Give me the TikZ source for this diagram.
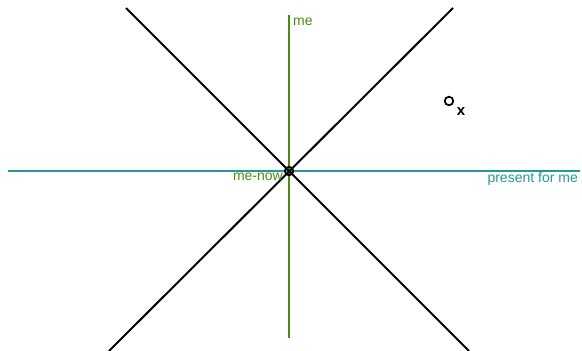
\documentclass[tikz,border=0pt]{standalone}
\usepackage{fontspec}
\setmainfont{Liberation Sans}
\usetikzlibrary{positioning}
\definecolor{megreen}{HTML}{4A8C12}
\definecolor{nowteal}{HTML}{23999A}

\begin{document}
\begin{tikzpicture}[
  x=1pt, y=-1pt,
  cone/.style={draw=black, line width=2pt},
  worldline/.style={draw=megreen, line width=2pt},
  presentline/.style={draw=nowteal, line width=2pt},
  event/.style={circle, draw=black, line width=1.8pt, inner sep=0pt, minimum size=8.5pt},
  lbl/.style={font=\fontsize{14}{16}\selectfont, inner sep=1pt}
]
\useasboundingbox (0,0) rectangle (582,351);
% end points of the lines
\coordinate (pl) at (8,171);
\coordinate (pr) at (580,171);
\coordinate (wt) at (289,15);
\coordinate (wb) at (289,338);
\coordinate (ctl) at (126,8);
\coordinate (cbr) at (469,351);
\coordinate (ctr) at (453,8);
\coordinate (cbl) at (109,351);
\draw[presentline] (pl) -- (pr);
\draw[worldline] (wt) -- (wb);
\draw[cone] (ctl) -- (cbr);
\draw[cone] (ctr) -- (cbl);
\node[event] (menow) at (289,171) {};
\node[event] (ev) at (449,101) {};
% labels
\node[lbl, text=megreen, anchor=west] (melbl) at (292,22) {me};
\node[lbl, text=megreen, anchor=east] (nowlbl) at (284,177) {me-now};
\node[lbl, text=nowteal, anchor=east] (preslbl) at (579,179) {present for me};
\node[font=\fontsize{15}{17}\selectfont\bfseries, inner sep=0pt] (evlbl) at (461,112) {x};
\end{tikzpicture}
\end{document}
